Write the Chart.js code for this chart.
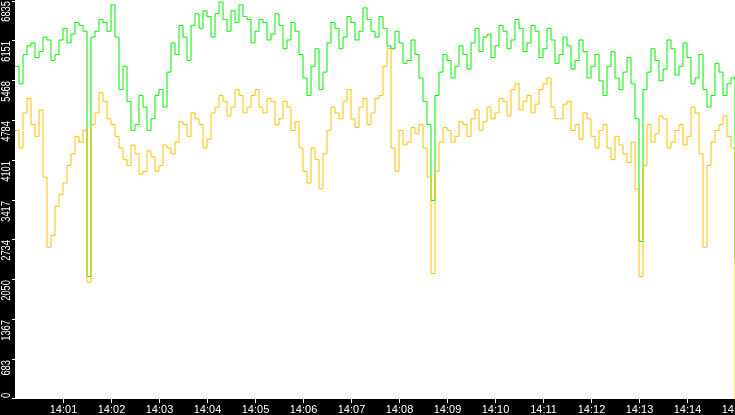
<!DOCTYPE html>
<html>
<head>
<meta charset="utf-8">
<script src="https://cdn.jsdelivr.net/npm/chart.js@4"></script>
<style>
  html, body { margin: 0; padding: 0; background: #fff; }
  #wrap { width: 735px; height: 415px; }
</style>
</head>
<body>
<div id="wrap"><canvas id="c"></canvas></div>
<script>
'use strict';

const GREEN_VALUES = [
  5700, 5400, 5900, 6050, 6100, 5850, 5950, 6200, 6150, 5800, 5900, 6150, 6350, 6100, 6250, 6450, 6400,
  6300, 2100, 6200, 6300, 6500, 6450, 6300, 6750, 6200, 5300, 5700, 5100, 4600, 4700, 5200, 5000,
  4600, 4800, 5200, 5300, 5000, 5600, 6100, 5900, 6400, 6200, 5800, 6400, 6600, 6350, 6650, 6550,
  6200, 6600, 6800, 6500, 6300, 6650, 6450, 6750, 6550, 6500, 6100, 6300, 6500, 6450, 6150, 6250,
  6600, 6400, 6000, 6150, 6450, 6300, 5900, 5500, 5200, 5700, 6000, 5300, 5600, 6100, 6450, 6350,
  6000, 6200, 6550, 6450, 6150, 6300, 6700, 6500, 6300, 6200, 6550, 6350, 6050, 6000, 6300, 6100,
  5750, 5800, 6150, 5900, 5500, 5100, 4700, 3400, 5200, 5600, 5900, 5800, 5500, 5700, 6050, 5900,
  5650, 6100, 6350, 5950, 6200, 6250, 5850, 6050, 6400, 6300, 6000, 6150, 6500, 6350, 5950, 6100,
  6400, 6300, 5850, 6000, 6350, 6150, 5750, 5900, 6200, 6050, 5650, 5800, 6150, 5950, 5500, 5700,
  5900, 5450, 5200, 5700, 5950, 5500, 5300, 5600, 5850, 5400, 4800, 2700, 5300, 5600, 6000, 5800,
  5450, 5650, 6150, 6000, 5550, 5700, 6100, 5850, 5400, 5500, 5900, 5300, 5000, 5200, 5750, 5600,
  5200, 5400, 5500, 2400,
];

const ORANGE_VALUES = [
  4600, 4300, 4900, 5150, 4700, 4500, 4950, 3800, 2600, 2800, 3300, 3500, 3700, 4000, 4200, 4500,
  4400, 4600, 2000, 4700, 4900, 5250, 5100, 4800, 4700, 4500, 4300, 4100, 4000, 4350, 4200, 3850,
  3900, 4250, 4150, 3900, 4000, 4350, 4300, 4200, 4400, 4750, 4700, 4500, 4900, 4800, 4700, 4300,
  4450, 4900, 5000, 5200, 5100, 4850, 5000, 5300, 5200, 4900, 5000, 5200, 5300, 5000, 4900, 5150,
  5100, 4700, 4800, 5100, 5000, 4600, 4750, 4300, 3900, 3700, 4300, 4100, 3600, 4200, 4600, 5000,
  4900, 4800, 5100, 5300, 4800, 4650, 5000, 5150, 4700, 4900, 5150, 5200, 5700, 6000, 4300, 3900,
  4600, 4350, 4400, 4650, 4550, 4700, 4300, 3800, 2150, 3900, 4400, 4650, 4600, 4400, 4500, 4750,
  4700, 4500, 4800, 4950, 4600, 4750, 5000, 4800, 4900, 5150, 5100, 4850, 5300, 5400, 4950, 5100,
  5200, 4900, 5050, 5300, 5400, 5500, 5000, 4800, 4800, 5050, 5100, 4600, 4700, 4450, 4900, 4800,
  4500, 4300, 4600, 4700, 4300, 4100, 4500, 4350, 4200, 4050, 4400, 3600, 2100, 4000, 4700, 4400,
  4550, 4850, 4800, 4300, 4400, 4600, 4700, 4350, 4500, 5000, 4900, 4200, 2600, 4000, 4400, 4600,
  4700, 4850, 4500, 4300, 0,
];

const SPAN_SECONDS = 900; // 14:00 → 14:15
const Y_MAX = 6835;
const Y_TICK_LABELS = ['0', '683', '1367', '2050', '2734', '3417', '4101', '4784', '5468', '6151', '6835'];
const X_TICK_MINUTES = [1, 2, 3, 4, 5, 6, 7, 8, 9, 10, 11, 12, 13, 14, 15];

const Y_FONT = "12px 'Liberation Sans'";
const X_FONT = "11px 'Liberation Sans'";

const frame = {
  id: 'frame',
  beforeDraw(chart) {
    const { ctx, width, height } = chart;
    ctx.save();
    ctx.fillStyle = '#fff';
    ctx.fillRect(0, 0, width, height);
    ctx.restore();
  },
  afterDraw(chart) {
    const { ctx, chartArea: a, width, height } = chart;
    const sx = chart.scales.x, sy = chart.scales.y;
    ctx.save();
    ctx.fillStyle = '#000';
    ctx.fillRect(0, 0, a.left, height);
    ctx.fillRect(0, a.bottom, width, height - a.bottom);
    ctx.strokeStyle = '#fff';
    ctx.fillStyle = '#fff';
    ctx.lineWidth = 1;

    // y ticks; labels read bottom-to-top and end just under the tick
    ctx.font = Y_FONT;
    Y_TICK_LABELS.forEach((lab, i) => {
      const y = Math.round(sy.getPixelForValue(i * Y_MAX / 10));
      const yy = Math.min(Math.max(y, 1), a.bottom - 1) + 0.5;
      ctx.beginPath();
      ctx.moveTo(a.left - 3, yy);
      ctx.lineTo(a.left + 1, yy);
      ctx.stroke();
      ctx.save();
      ctx.translate(a.left - 2, Math.max(y, 0) + (i === 0 ? -1 : 1));
      ctx.rotate(-Math.PI / 2);
      ctx.scale(0.78, 1);
      ctx.textBaseline = 'bottom';
      ctx.textAlign = i === 0 ? 'left' : 'right';
      ctx.fillText(lab, 0, 0);
      ctx.restore();
    });

    // x ticks
    ctx.font = X_FONT;
    ctx.textAlign = 'center';
    ctx.textBaseline = 'bottom';
    X_TICK_MINUTES.forEach(m => {
      const x = Math.round(sx.getPixelForValue(m * 60)) + 0.5;
      ctx.beginPath();
      ctx.moveTo(x, a.bottom);
      ctx.lineTo(x, a.bottom + 4);
      ctx.stroke();
      ctx.fillText('14:' + String(m).padStart(2, '0'), x, height);
    });
    ctx.restore();
  },
};

const line = (values, color) => ({
  data: values.map((v, i) => ({ x: i * SPAN_SECONDS / (values.length - 1), y: v })),
  borderColor: color,
  borderWidth: 1,
  pointRadius: 0,
  stepped: true,
  fill: false,
});

new Chart(document.getElementById('c'), {
  type: 'line',
  data: {
    datasets: [
      line(ORANGE_VALUES, '#ffc000'),
      line(GREEN_VALUES, '#00f000'),
    ],
  },
  options: {
    animation: false,
    responsive: true,
    maintainAspectRatio: false,
    parsing: false,
    layout: { padding: { left: 15, bottom: 16, top: 0, right: 0 } },
    plugins: { legend: { display: false }, tooltip: { enabled: false } },
    scales: {
      x: { type: 'linear', min: 0, max: SPAN_SECONDS, display: false },
      y: { min: 0, max: Y_MAX, display: false },
    },
  },
  plugins: [frame],
});
</script>
</body>
</html>
